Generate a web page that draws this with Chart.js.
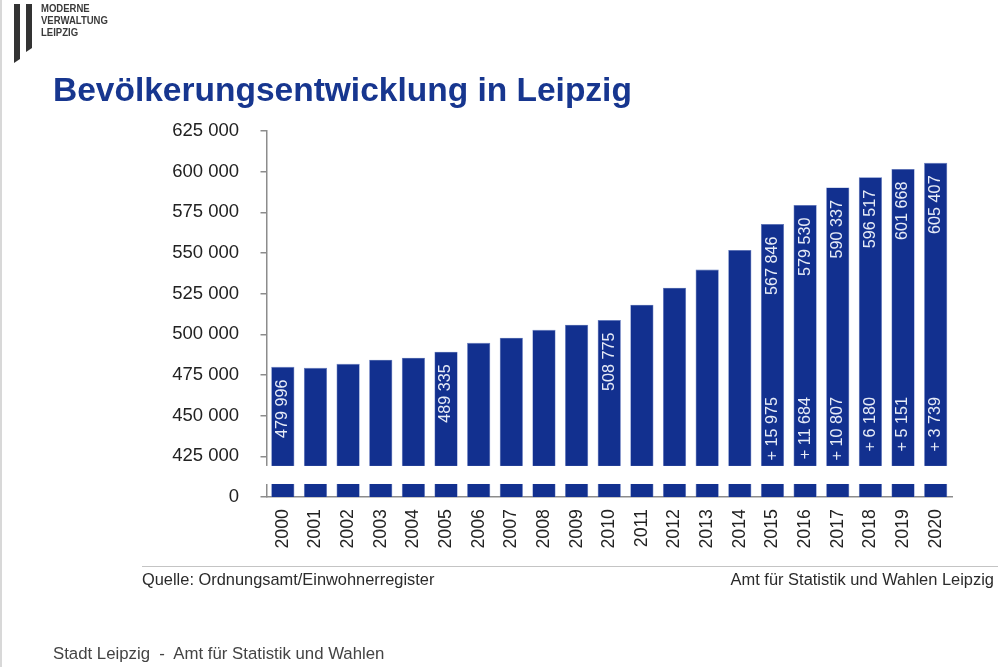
<!DOCTYPE html>
<html lang="de">
<head>
<meta charset="utf-8">
<script src="https://cdn.jsdelivr.net/npm/chart.js@4"></script>
<style>
html,body{margin:0;padding:0;background:#fff;width:998px;height:667px;overflow:hidden;font-family:"Liberation Sans",Arial,sans-serif}
canvas{position:absolute;left:0;top:0}
.t{position:absolute;white-space:nowrap;color:#2b2b2b}
#edge{position:absolute;left:0;top:0;width:2px;height:667px;background:#d8d8d8}
#title{left:53px;top:70px;font-size:33.5px;font-weight:bold;color:#17368f;line-height:40px}
#rule{position:absolute;left:142px;top:566px;width:856px;height:1px;background:#c4c4c4}
#src{left:142px;top:570px;font-size:16.4px;line-height:18px}
#office{right:4px;top:570px;font-size:16.45px;line-height:18px}
#foot{left:53px;top:645px;font-size:16.8px;line-height:18px;color:#444}
#logo{left:41px;top:2px;font-size:10.6px;line-height:12.2px;font-weight:bold;color:#3a3a3a;transform:scaleX(.9);transform-origin:left top}
#mark{position:absolute;left:14px;top:4px}
</style>
</head>
<body>
<canvas id="c" width="998" height="667"></canvas>
<div id="edge"></div>
<svg id="mark" width="20" height="60"><polygon points="0,0 6,0 6,55 0,59" fill="#333"/><polygon points="12,0 18,0 18,44 12,48" fill="#333"/></svg>
<div class="t" id="logo">MODERNE<br>VERWALTUNG<br>LEIPZIG</div>
<div class="t" id="title">Bevölkerungsentwicklung in Leipzig</div>
<div id="rule"></div>
<div class="t" id="src">Quelle: Ordnungsamt/Einwohnerregister</div>
<div class="t" id="office">Amt für Statistik und Wahlen Leipzig</div>
<div class="t" id="foot">Stadt Leipzig &nbsp;-&nbsp; Amt für Statistik und Wahlen</div>
<script>
const years = ["2000","2001","2002","2003","2004","2005","2006","2007","2008","2009","2010","2011","2012","2013","2014","2015","2016","2017","2018","2019","2020"];
const population = [479996,479400,481900,484400,485600,489335,494800,497900,502800,505900,508775,518200,528700,539800,551871,567846,579530,590337,596517,601668,605407];
const valueLabels = ["479 996","","","","","489 335","","","","","508 775","","","","","567 846","579 530","590 337","596 517","601 668","605 407"];
const changeLabels = ["","","","","","","","","","","","","","","","+ 15 975","+ 11 684","+ 10 807","+ 6 180","+ 5 151","+ 3 739"];
const axisFloor = 400000;   // the broken axis: this position is labelled 0
const axisTop = 625000;
const axisStep = 25000;
const breakFrom = 408000;
const breakTo = 419100;
const barColor = "#12308f";

const breakAndLabels = {
  id: "breakAndLabels",
  afterDatasetsDraw(chart) {
    const {ctx, scales:{x, y}, chartArea} = chart;
    ctx.save();
    const top = y.getPixelForValue(breakTo), bottom = y.getPixelForValue(breakFrom);
    ctx.fillStyle = "#fff";
    ctx.fillRect(chartArea.left - 3, top, chartArea.right - chartArea.left + 6, bottom - top);
    ctx.fillStyle = "#e6ebf7";
    ctx.font = "16.2px 'Liberation Sans', Arial, sans-serif";
    ctx.textBaseline = "middle";
    years.forEach((yr, i) => {
      const cx = x.getPixelForValue(i);
      if (valueLabels[i]) {
        ctx.save();
        ctx.translate(cx, y.getPixelForValue(population[i]) + 12.5);
        ctx.rotate(-Math.PI / 2);
        ctx.textAlign = "right";
        ctx.fillText(valueLabels[i], 0, 0);
        ctx.restore();
      }
      if (changeLabels[i]) {
        ctx.save();
        ctx.translate(cx, top - 69);
        ctx.rotate(-Math.PI / 2);
        ctx.textAlign = "right";
        ctx.fillText(changeLabels[i], 0, 0);
        ctx.restore();
      }
    });
    ctx.restore();
  }
};

new Chart(document.getElementById("c"), {
  type: "bar",
  data: { labels: years, datasets: [{ data: population, backgroundColor: barColor, borderColor: "#5a73bd", borderWidth: 0.6, barPercentage: 1, categoryPercentage: 0.71 }] },
  options: {
    responsive: false,
    animation: false,
    devicePixelRatio: 1,
    layout: { padding: { top: 131, right: 46, left: 0, bottom: 0 } },
    plugins: { legend: { display: false }, tooltip: { enabled: false }, title: { display: false } },
    scales: {
      x: {
        grid: { display: false },
        border: { color: "#8c8c8c", width: 1.5 },
        afterFit(s) { s.height = 170; },
        ticks: { minRotation: 90, maxRotation: 90, autoSkip: false, color: "#222", padding: 4, font: { family: "'Liberation Sans', Arial, sans-serif", size: 17.8 } }
      },
      y: {
        min: axisFloor,
        max: axisTop,
        afterFit(s) { s.width = 266.5; },
        afterBuildTicks(s) { const t = []; for (let v = axisFloor; v <= axisTop; v += axisStep) t.push({ value: v }); s.ticks = t; },
        grid: { drawOnChartArea: false, drawTicks: true, tickLength: 6, color: "#8c8c8c", lineWidth: 1.5 },
        border: { color: "#8c8c8c", width: 1.5 },
        ticks: {
          color: "#222",
          padding: 21.5,
          font: { family: "'Liberation Sans', Arial, sans-serif", size: 18.5 },
          callback(v) { return v === axisFloor ? "0" : String(v).replace(/(\d{3})$/, " $1"); }
        }
      }
    }
  },
  plugins: [breakAndLabels]
});
</script>
</body>
</html>
